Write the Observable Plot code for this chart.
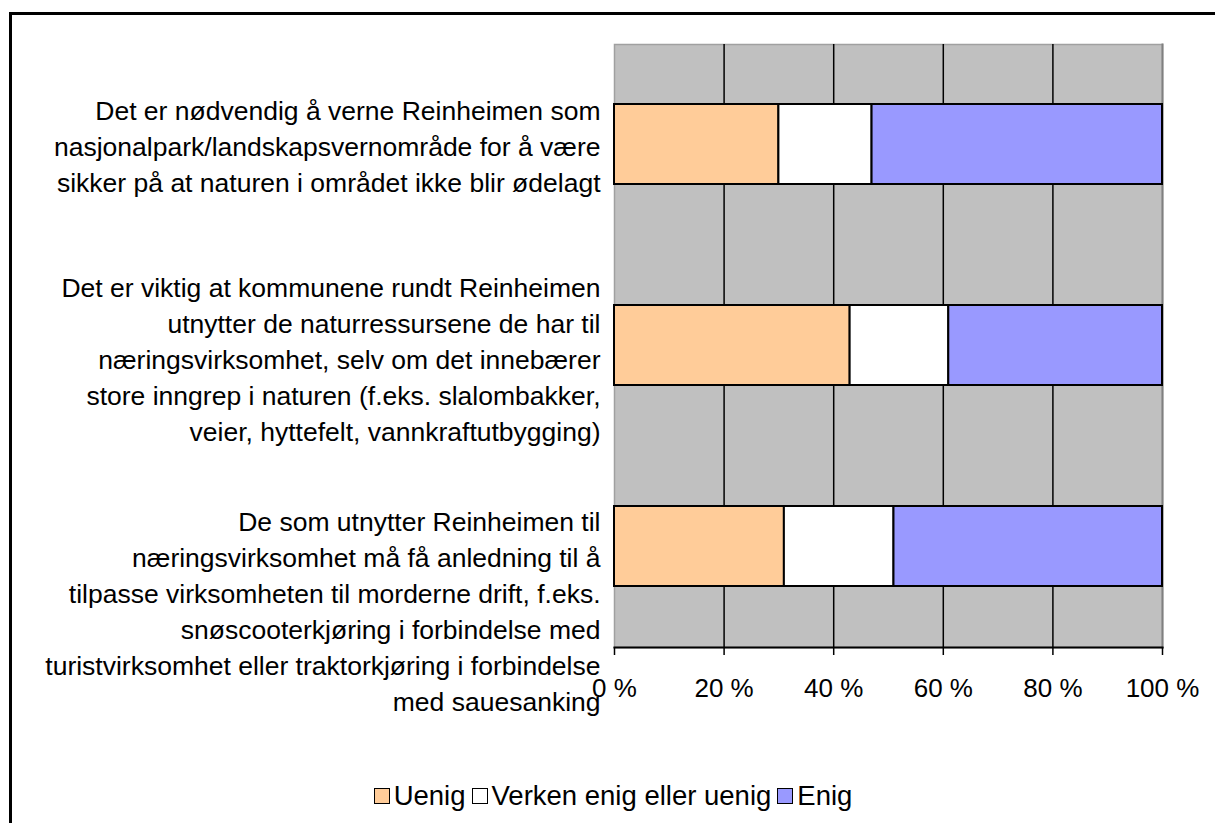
<!DOCTYPE html>
<html>
<head>
<meta charset="utf-8">
<script src="https://cdn.jsdelivr.net/npm/d3@7"></script>
<script src="https://cdn.jsdelivr.net/npm/@observablehq/plot@0.6"></script>
<style>
  html, body { margin: 0; padding: 0; background: #fff; overflow: hidden; }
  body { width: 1215px; height: 823px; position: relative; font-family: "Liberation Sans", Arial, sans-serif; }
  #border { position: absolute; left: 9px; top: 12px; width: 1300px; height: 900px; border: 3px solid #000; box-sizing: border-box; }
  #chart { position: absolute; left: 0; top: 0; }
  #legend { position: absolute; left: 0; width: 1232px; top: 780px; display: flex; justify-content: center; align-items: center; font-size: 27.5px; color: #000; white-space: nowrap; }
  #legend .sw { width: 14px; height: 14px; border: 1.5px solid #000; margin-right: 4px; }
  #legend .item { display: flex; align-items: center; margin-right: 6px; }
</style>
</head>
<body>
<div id="border"></div>
<div id="chart"></div>
<div id="legend"></div>
<script>
const categories = [
  "Det er nødvendig å verne Reinheimen som\nnasjonalpark/landskapsvernområde for å være\nsikker på at naturen i området ikke blir ødelagt",
  "Det er viktig at kommunene rundt Reinheimen\nutnytter de naturressursene de har til\nnæringsvirksomhet, selv om det innebærer\nstore inngrep i naturen (f.eks. slalombakker,\nveier, hyttefelt, vannkraftutbygging)",
  "De som utnytter Reinheimen til\nnæringsvirksomhet må få anledning til å\ntilpasse virksomheten til morderne drift, f.eks.\nsnøscooterkjøring i forbindelse med\nturistvirksomhet eller traktorkjøring i forbindelse\nmed sauesanking"
];
const seriesNames = ["Uenig", "Verken enig eller uenig", "Enig"];
const seriesColors = ["#FFCC99", "#FFFFFF", "#9999FF"];
const uenig = [30, 43, 31];
const verken = [17, 18, 20];
const enig = [53, 39, 49];
const xTicks = [0, 20, 40, 60, 80, 100];
const gridTicks = [20, 40, 60, 80];

const seriesValues = [uenig, verken, enig];
const data = [];
categories.forEach((c, i) => {
  seriesNames.forEach((s, j) => data.push({category: c, series: s, value: seriesValues[j][i]}));
});

const W = 1215, H = 720;
const labelFont = 26.5;

function labelMark(idx, dy) {
  return Plot.text([categories[idx]], {
    x: () => 0, y: d => d, text: d => d,
    textAnchor: "end", dx: -14, dy: dy, lineAnchor: "middle",
    lineHeight: 1.36, fontSize: labelFont, fill: "#000"
  });
}

const chart = Plot.plot({
  width: W, height: H,
  marginLeft: 614, marginRight: W - 1162, marginTop: 44, marginBottom: H - 647,
  style: { fontFamily: "Liberation Sans, Arial, sans-serif", background: "transparent", overflow: "visible" },
  x: { domain: [0, 100], axis: null, label: null },
  y: { domain: categories, axis: null, paddingInner: 0.6, paddingOuter: 0.3, label: null },
  color: { domain: seriesNames, range: seriesColors },
  marks: [
    Plot.frame({ fill: "#C0C0C0", stroke: "#A0A0A0", strokeWidth: 1.5 }),
    Plot.frame({ anchor: "right", stroke: "#808080", strokeWidth: 2 }),
    Plot.ruleX(gridTicks, { stroke: "#000", strokeWidth: 1.5 }),
    Plot.barX(data, Plot.stackX({
      x: "value", y: "category", fill: "series", order: seriesNames,
      stroke: "#000", strokeWidth: 2
    })),
    Plot.frame({ anchor: "bottom", stroke: "#000", strokeWidth: 2 }),
    Plot.axisX(xTicks, {
      tickSize: 8, tickPadding: 23, tickFormat: d => d + " %", label: null,
      fontSize: 26, stroke: "#000", strokeWidth: 1.5, fill: "#000"
    }),
    labelMark(0, 0),
    labelMark(1, 12),
    labelMark(2, 63)
  ]
});
document.getElementById("chart").appendChild(chart);

const legend = document.getElementById("legend");
seriesNames.forEach((s, i) => {
  const item = document.createElement("div");
  item.className = "item";
  const sw = document.createElement("div");
  sw.className = "sw";
  sw.style.background = seriesColors[i];
  const t = document.createElement("span");
  t.textContent = s;
  item.appendChild(sw); item.appendChild(t);
  legend.appendChild(item);
});
</script>
</body>
</html>
